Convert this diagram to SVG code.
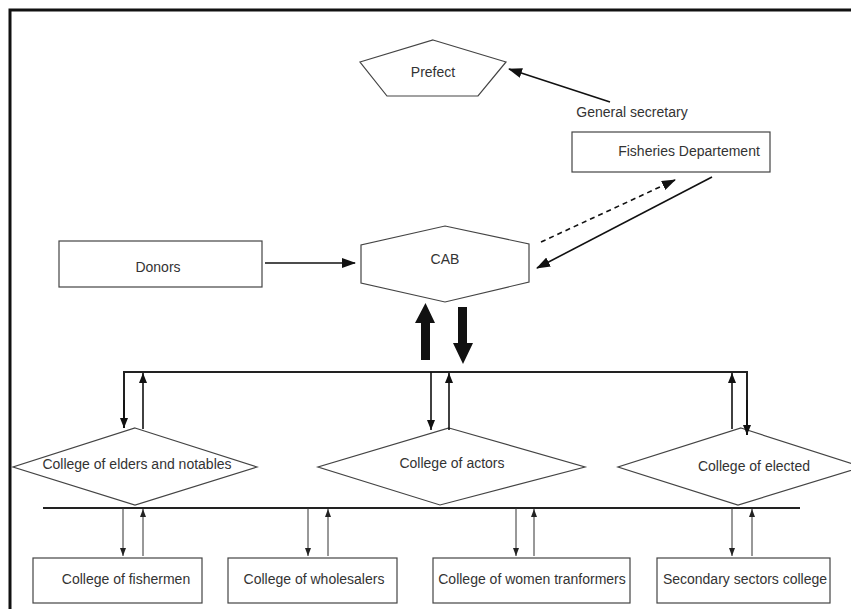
<svg xmlns="http://www.w3.org/2000/svg" width="851" height="609" viewBox="0 0 851 609">
<defs>
<marker id="ah" markerUnits="userSpaceOnUse" markerWidth="14" markerHeight="10" refX="13" refY="5" orient="auto"><path d="M0,0 L14,5 L0,10 Z" fill="#111"/></marker>
<marker id="am" markerUnits="userSpaceOnUse" markerWidth="10" markerHeight="8" refX="10" refY="4" orient="auto"><path d="M0,0 L10,4 L0,8 Z" fill="#111"/></marker>
<marker id="as" markerUnits="userSpaceOnUse" markerWidth="8" markerHeight="6" refX="8" refY="3" orient="auto"><path d="M0,0 L8,3 L0,6 Z" fill="#222"/></marker>
</defs>
<style>
.shape{fill:#fff;stroke:#444;stroke-width:1.2}
.t{font-family:"Liberation Sans",Arial,sans-serif;font-size:14px;fill:#333;text-anchor:middle;dominant-baseline:central}
.c{fill:none;stroke:#111;stroke-width:1.6}
.bus{fill:none;stroke:#222;stroke-width:2}
.thin{fill:none;stroke:#333;stroke-width:1}
</style>
<rect x="0" y="0" width="851" height="609" fill="#fff"/>
<rect x="10" y="10" width="900" height="700" fill="none" stroke="#111" stroke-width="3"/>

<g id="prefect"><polygon class="shape" points="433,40 506,62 478,96 387,96 360,62"/><text class="t" x="433" y="72">Prefect</text></g>
<g id="general-secretary"><text class="t" x="632" y="112">General secretary</text></g>
<g id="fisheries"><rect class="shape" x="572" y="132" width="198" height="40"/><text class="t" x="689" y="151">Fisheries Departement</text></g>
<g id="donors"><rect class="shape" x="59" y="241" width="203" height="46"/><text class="t" x="158" y="267">Donors</text></g>
<g id="cab"><polygon class="shape" points="445,226 529,244 529,282 445,302 361,283 361,245"/><text class="t" x="445" y="259">CAB</text></g>

<g id="college-elders"><polygon class="shape" points="135,428 257,467 135,505 13,467"/><text class="t" x="137" y="464">College of elders and notables</text></g>
<g id="college-actors"><polygon class="shape" points="449,428 585,467 440,505 318,467"/><text class="t" x="452" y="463">College of actors</text></g>
<g id="college-elected"><polygon class="shape" points="741,428 862,467 738,505 618,467"/><text class="t" x="754" y="466">College of elected</text></g>

<g id="college-fishermen"><rect class="shape" x="33" y="558" width="169" height="45"/><text class="t" x="126" y="579">College of fishermen</text></g>
<g id="college-wholesalers"><rect class="shape" x="228" y="558" width="169" height="45"/><text class="t" x="314" y="579">College of wholesalers</text></g>
<g id="college-women"><rect class="shape" x="433" y="558" width="197" height="45"/><text class="t" x="532" y="579">College of women tranformers</text></g>
<g id="college-secondary"><rect class="shape" x="657" y="558" width="173" height="45"/><text class="t" x="745" y="579">Secondary sectors college</text></g>

<g id="connectors">
<line class="c" x1="610" y1="102" x2="509" y2="69" marker-end="url(#ah)"/>
<line class="c" x1="712" y1="177" x2="537" y2="268" marker-end="url(#ah)"/>
<line class="c" x1="541" y1="242" x2="675" y2="180" stroke-dasharray="5,4" marker-end="url(#ah)"/>
<line class="c" x1="265" y1="263" x2="355" y2="263" marker-end="url(#ah)"/>
<polygon points="421,360 430,360 430,323 435,323 425.5,303 415,323 421,323" fill="#111"/>
<polygon points="458,307 467,307 467,343 473,343 463,364 453,343 458,343" fill="#111"/>
<polyline class="bus" points="124,428 124,372 747,372 747,435"/>
<line class="c" x1="124" y1="400" x2="124" y2="428" marker-end="url(#am)"/>
<line class="c" x1="143" y1="429" x2="143" y2="373" marker-end="url(#am)"/>
<line class="c" x1="431" y1="372" x2="431" y2="430" marker-end="url(#am)"/>
<line class="c" x1="449" y1="430" x2="449" y2="373" marker-end="url(#am)"/>
<line class="c" x1="732" y1="429" x2="732" y2="373" marker-end="url(#am)"/>
<line class="c" x1="747" y1="400" x2="747" y2="435" marker-end="url(#am)"/>
<line class="bus" x1="43" y1="508" x2="800" y2="508"/>
<line class="thin" x1="123" y1="508" x2="123" y2="556" marker-end="url(#as)"/>
<line class="thin" x1="143" y1="556" x2="143" y2="509" marker-end="url(#as)"/>
<line class="thin" x1="308" y1="508" x2="308" y2="556" marker-end="url(#as)"/>
<line class="thin" x1="328" y1="556" x2="328" y2="509" marker-end="url(#as)"/>
<line class="thin" x1="516" y1="508" x2="516" y2="556" marker-end="url(#as)"/>
<line class="thin" x1="534" y1="556" x2="534" y2="509" marker-end="url(#as)"/>
<line class="thin" x1="732" y1="508" x2="732" y2="556" marker-end="url(#as)"/>
<line class="thin" x1="752" y1="556" x2="752" y2="509" marker-end="url(#as)"/>
</g>
</svg>
